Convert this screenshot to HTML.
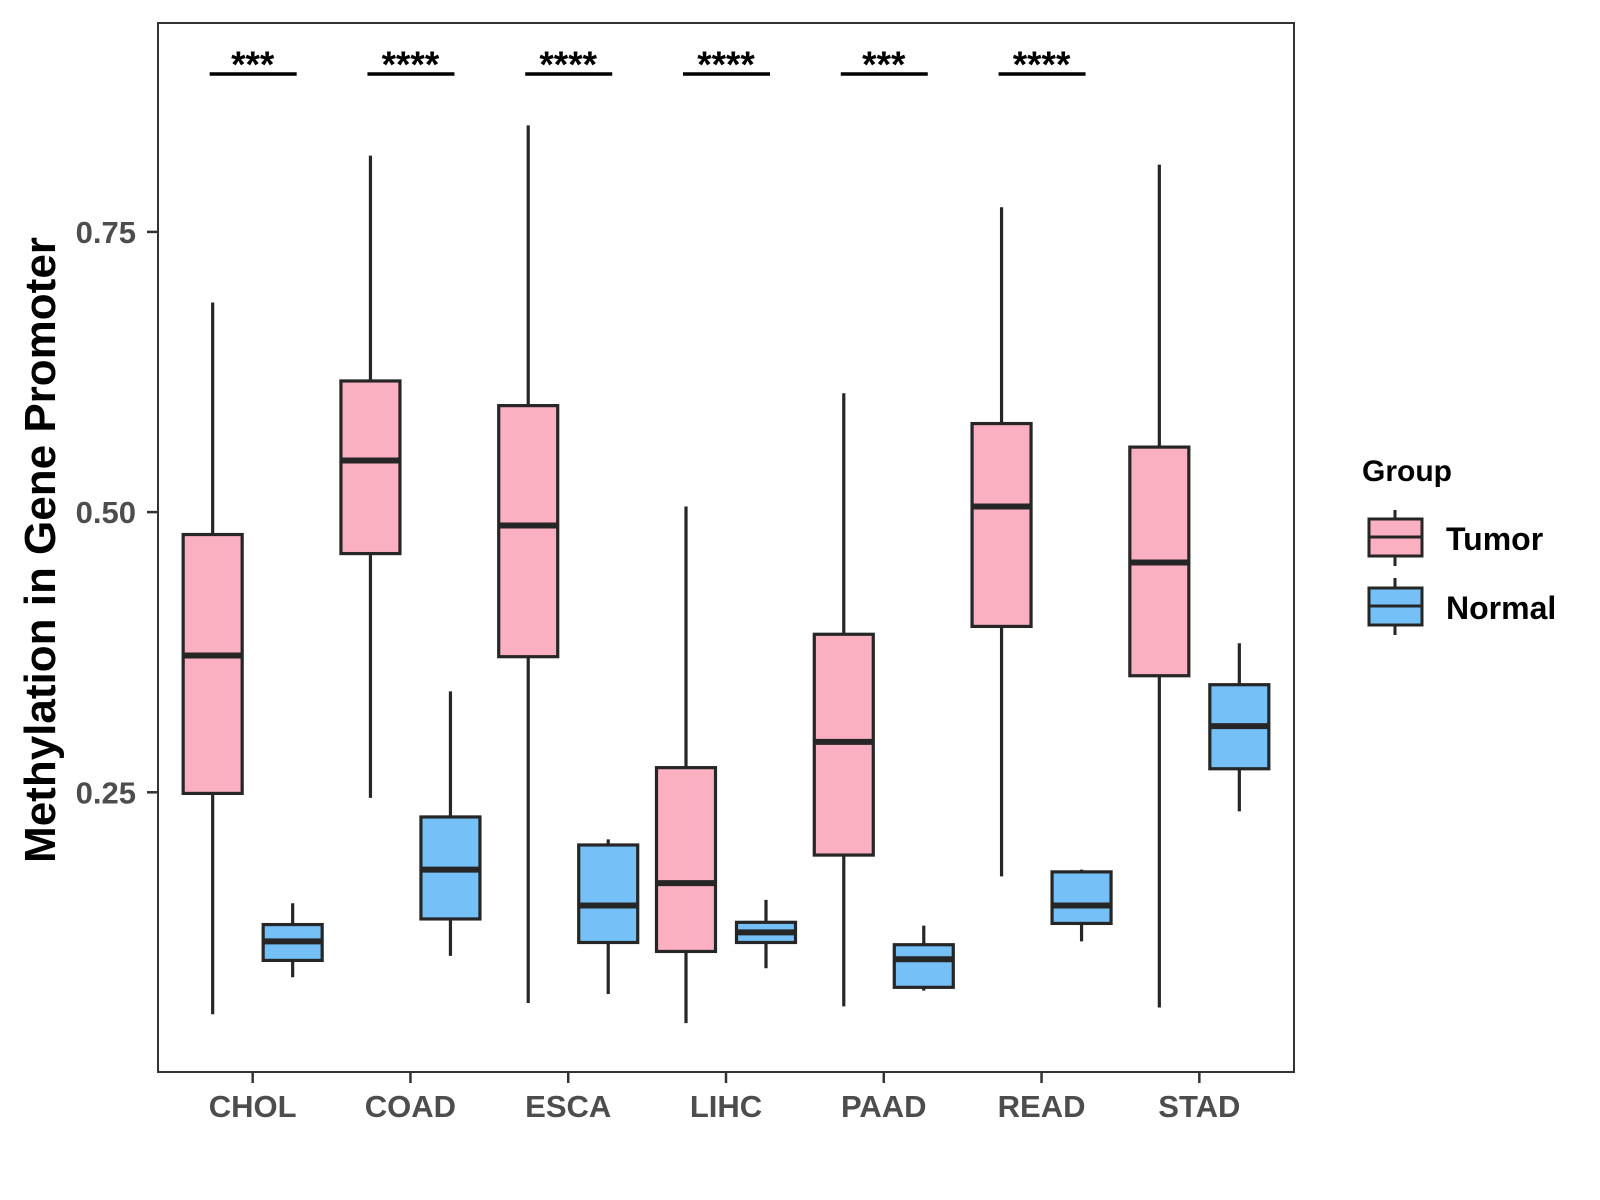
<!DOCTYPE html>
<html><head><meta charset="utf-8"><style>
html,body{margin:0;padding:0;background:#fff;}
svg{display:block;font-family:"Liberation Sans",Arial,sans-serif;}
</style></head><body>
<svg id="chart" width="1600" height="1200" viewBox="0 0 1600 1200">
<rect x="0" y="0" width="1600" height="1200" fill="#fff"/>
<g id="plot"></g>
<rect x="158" y="23" width="1136" height="1049" fill="none" stroke="#333" stroke-width="2"/>
<text transform="translate(55,550) rotate(-90)" text-anchor="middle" font-size="44" font-weight="bold" fill="#000">Methylation in Gene Promoter</text>
<g>
<text x="1362" y="481" font-size="30" font-weight="bold" fill="#000">Group</text>
<g>
<line x1="1395" y1="510" x2="1395" y2="566" stroke="#262626" stroke-width="3"/>
<rect x="1369" y="519" width="53" height="37" fill="#FBB0C1" stroke="#262626" stroke-width="3"/>
<line x1="1369" y1="537" x2="1422" y2="537" stroke="#262626" stroke-width="3"/>
<text x="1446" y="550" font-size="32" font-weight="bold" fill="#000">Tumor</text>
</g>
<g>
<line x1="1395" y1="578" x2="1395" y2="635" stroke="#262626" stroke-width="3"/>
<rect x="1369" y="588" width="53" height="37" fill="#75C1F7" stroke="#262626" stroke-width="3"/>
<line x1="1369" y1="606" x2="1422" y2="606" stroke="#262626" stroke-width="3"/>
<text x="1446" y="619" font-size="32" font-weight="bold" fill="#000">Normal</text>
</g>
</g>
</svg>
<script>
const categories = ["CHOL","COAD","ESCA","LIHC","PAAD","READ","STAD"];
const tumorMin = [0.052,0.245,0.062,0.044,0.059,0.175,0.058];
const tumorQ1  = [0.249,0.463,0.371,0.108,0.194,0.398,0.354];
const tumorMed = [0.372,0.546,0.488,0.169,0.295,0.505,0.455];
const tumorQ3  = [0.480,0.617,0.595,0.272,0.391,0.579,0.558];
const tumorMax = [0.687,0.818,0.845,0.505,0.606,0.772,0.810];
const normalMin = [0.085,0.104,0.070,0.093,0.073,0.117,0.233];
const normalQ1  = [0.100,0.137,0.116,0.116,0.076,0.133,0.271];
const normalMed = [0.117,0.181,0.149,0.125,0.101,0.149,0.309];
const normalQ3  = [0.132,0.228,0.203,0.134,0.114,0.179,0.346];
const normalMax = [0.151,0.340,0.208,0.154,0.131,0.181,0.383];
const sigLabels = ["***","****","****","****","***","****",""];
const yTicks = [0.25,0.50,0.75];
const yTickLabels = ["0.25","0.50","0.75"];

const NS="http://www.w3.org/2000/svg";
const g=document.getElementById('plot');
const L=158,R=1294,T=23,B=1072;
function x(i){return L+(0.6+i)*(R-L)/7.2;}
function y(v){return 512.1-(v-0.5)*1120.8;}
function mk(tag,attrs,parent){const e=document.createElementNS(NS,tag);for(const k in attrs)e.setAttribute(k,attrs[k]);(parent||g).appendChild(e);return e;}
const HW=29.5, OFF=40;
function box(cx,mn,q1,md,q3,mx,fill,name){
  const grp=mk('g',{});
  
  
  mk('line',{x1:cx,x2:cx,y1:y(mx),y2:y(mn),stroke:'#262626','stroke-width':3.2},grp);
  mk('rect',{x:cx-HW,y:y(q3),width:2*HW,height:y(q1)-y(q3),fill:fill,stroke:'#262626','stroke-width':3.2},grp);
  mk('line',{x1:cx-HW,x2:cx+HW,y1:y(md),y2:y(md),stroke:'#262626','stroke-width':6},grp);
}
categories.forEach((c,i)=>{
  box(x(i)-OFF,tumorMin[i],tumorQ1[i],tumorMed[i],tumorQ3[i],tumorMax[i],'#FBB0C1','box-tumor-'+c.toLowerCase());
  box(x(i)+OFF,normalMin[i],normalQ1[i],normalMed[i],normalQ3[i],normalMax[i],'#75C1F7','box-normal-'+c.toLowerCase());
  const tk=mk('line',{x1:x(i),x2:x(i),y1:B,y2:B+11,stroke:'#333','stroke-width':2.5});
  
  
  const t=mk('text',{x:x(i),y:1117,'text-anchor':'middle','font-size':31,'font-weight':'bold',fill:'#4d4d4d'});
  t.textContent=c;
  
  
  if(sigLabels[i]){
    const sl=mk('line',{x1:x(i)-43,x2:x(i)+44,y1:74,y2:74,stroke:'#000','stroke-width':3.5});
    
    
    const st=mk('text',{x:x(i),y:77,'text-anchor':'middle','font-size':37,'font-weight':'bold',fill:'#000'});
    st.textContent=sigLabels[i];
    
    
  }
});
yTicks.forEach((v,i)=>{
  const tk=mk('line',{x1:147,x2:158,y1:y(v),y2:y(v),stroke:'#333','stroke-width':2.5});
  
  
  const t=mk('text',{x:136,y:y(v)+11,'text-anchor':'end','font-size':31,'font-weight':'bold',fill:'#4d4d4d'});
  t.textContent=yTickLabels[i];
  
  
});
</script>
</body></html>
